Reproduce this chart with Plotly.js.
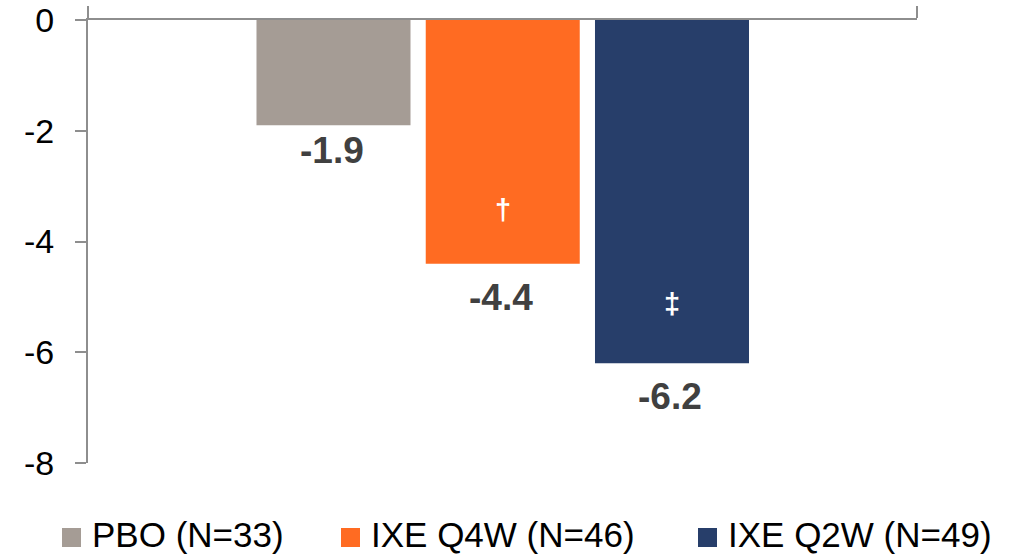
<!DOCTYPE html>
<html>
<head>
<meta charset="utf-8">
<script src="https://cdn.plot.ly/plotly-3.0.1.min.js"></script>
<style>
  html, body { margin: 0; padding: 0; background: #ffffff; }
  #chart { width: 1030px; height: 558px; }
</style>
</head>
<body>
<div id="chart"></div>
<script>
// Treatment arms and their mean change from baseline
const categories = ['PBO (N=33)', 'IXE Q4W (N=46)', 'IXE Q2W (N=49)'];
const changes = [-1.9, -4.4, -6.2];
const significance = ['', '\u2020', '\u2021'];
const yTickValues = [0, -2, -4, -6, -8];
const yTickLabels = ['0', '-2', '-4', '-6', '-8'];

// Styling
const barColors = ['#a59c95', '#ff6b22', '#273e6a'];
const axisColor = '#8e8e8e';
const fontFamily = 'Arial, "Liberation Sans", sans-serif';

// Plot area in pixels (used to place the hand-built legend)
const W = 1030, H = 558;
const M = { l: 88, r: 113, t: 20, b: 95 };
const plotW = W - M.l - M.r;
const plotH = H - M.t - M.b;
const px2paperX = px => (px - M.l) / plotW;
const px2paperY = py => (H - M.b - py) / plotH;

// Label offsets relative to bar ends (pixels)
const valueLabelShift = [-25, -34, -33];
const markShift = [0, 54, 59];

// Legend layout (pixels)
const legendSquareX = [62, 341, 698];
const legendSquareSize = 19;
const legendSquareTop = 528;
const legendTextGap = 9;
const legendTextY = 534;

const xs = categories.map((_, i) => i);
const xRange = [-1.4505, 3.4476];

const trace = {
  type: 'bar',
  x: xs,
  y: changes,
  width: 0.91,
  marker: { color: barColors, line: { width: 0 } },
  hoverinfo: 'skip',
  showlegend: false
};

const annotations = [];
const shapes = [];

changes.forEach((v, i) => {
  annotations.push({
    x: xs[i], y: v, xref: 'x', yref: 'y',
    text: '<b>' + v.toFixed(1) + '</b>',
    showarrow: false, xanchor: 'center', yanchor: 'middle',
    yshift: valueLabelShift[i], xshift: -2,
    font: { family: fontFamily, size: 37, color: '#404040' }
  });
  if (significance[i]) {
    annotations.push({
      x: xs[i], y: v, xref: 'x', yref: 'y',
      text: '<b>' + significance[i] + '</b>',
      showarrow: false, xanchor: 'center', yanchor: 'middle',
      yshift: markShift[i],
      font: { family: fontFamily, size: 29, color: '#ffffff' }
    });
  }
});

categories.forEach((name, i) => {
  const x0 = legendSquareX[i];
  shapes.push({
    type: 'rect', xref: 'paper', yref: 'paper',
    x0: px2paperX(x0), x1: px2paperX(x0 + legendSquareSize),
    y0: px2paperY(legendSquareTop + legendSquareSize), y1: px2paperY(legendSquareTop),
    fillcolor: barColors[i], line: { width: 0 }
  });
  annotations.push({
    xref: 'paper', yref: 'paper',
    x: px2paperX(x0 + legendSquareSize + legendTextGap),
    y: px2paperY(legendTextY),
    text: name, showarrow: false,
    xanchor: 'left', yanchor: 'middle',
    font: { family: fontFamily, size: 35, color: '#000000' }
  });
});

const layout = {
  width: W, height: H,
  margin: M,
  paper_bgcolor: '#ffffff',
  plot_bgcolor: '#ffffff',
  showlegend: false,
  font: { family: fontFamily, color: '#000000' },
  xaxis: {
    range: xRange,
    side: 'top',
    showline: true, linecolor: axisColor, linewidth: 2,
    ticks: 'outside', tickmode: 'array',
    tickvals: xRange, ticktext: ['', ''],
    ticklen: 12, tickwidth: 2, tickcolor: axisColor,
    showgrid: false, zeroline: false, fixedrange: true
  },
  yaxis: {
    range: [-8, 0],
    showline: true, linecolor: axisColor, linewidth: 2,
    ticks: 'outside', tickmode: 'array',
    tickvals: yTickValues, ticktext: yTickLabels,
    ticklen: 11, tickwidth: 2, tickcolor: axisColor,
    ticklabelstandoff: 14,
    tickfont: { family: fontFamily, size: 34, color: '#000000' },
    showgrid: false, zeroline: false, fixedrange: true
  },
  annotations: annotations,
  shapes: shapes
};

Plotly.newPlot('chart', [trace], layout, { displayModeBar: false, staticPlot: true });
</script>
</body>
</html>
